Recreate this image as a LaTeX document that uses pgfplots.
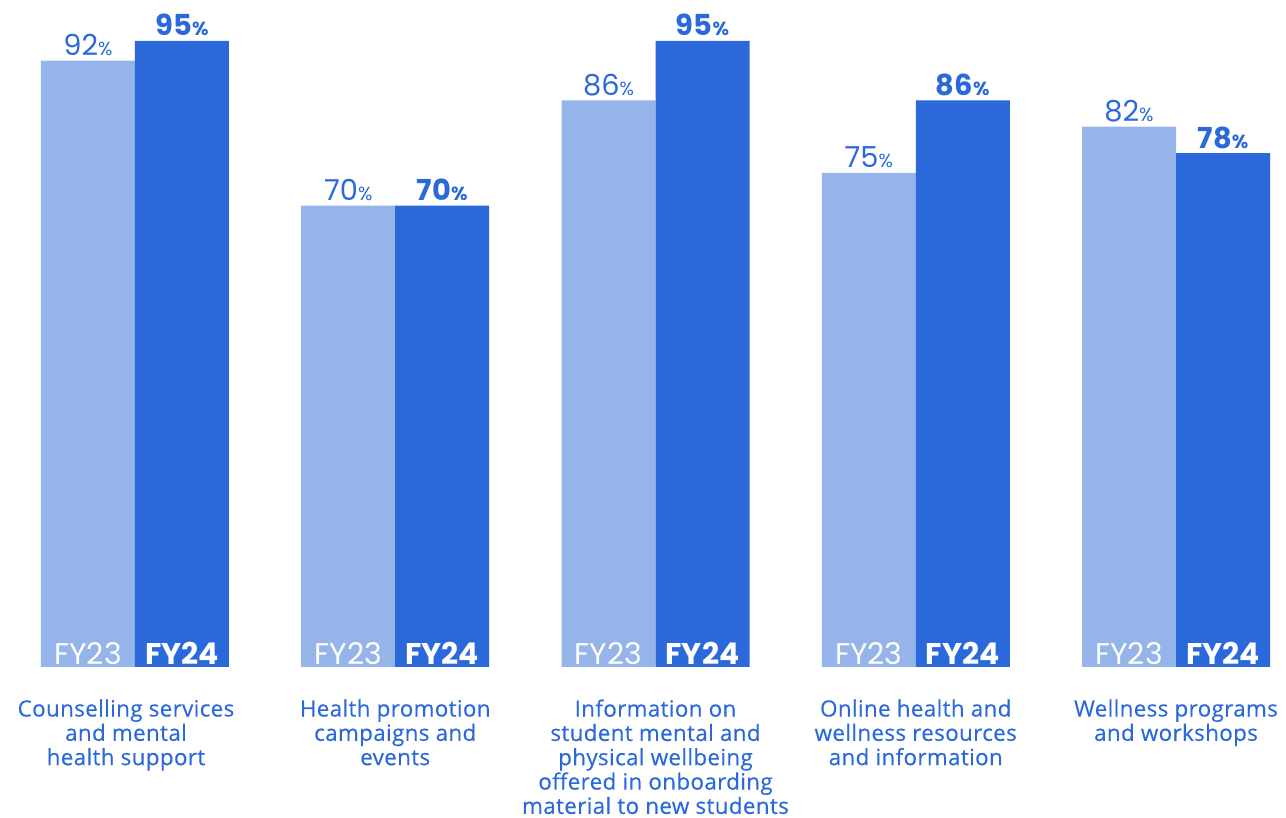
\documentclass[border=0pt]{standalone}
\usepackage{pgfplots}
\pgfplotsset{compat=1.18}
\usepackage{fontspec}
\setmainfont{Open Sans}
\newfontfamily\catfont[FakeBold=0.4, LetterSpace=1.5]{Open Sans}
\newfontfamily\numfont{Poppins}
\definecolor{lightb}{HTML}{95B4E9}
\definecolor{darkb}{HTML}{2B69DB}
\begin{document}
\begin{tikzpicture}
\begin{axis}[
 scale only axis, width=1286bp, height=818bp,
 xmin=-0.5187, xmax=4.4227, ymin=-22.915, ymax=101.22,
 hide axis, clip=false,
 ybar, bar width=94bp,
 point meta=explicit symbolic,
 nodes near coords style={anchor=base, yshift=5bp, text=darkb, inner sep=0pt},
]
\addplot[fill=lightb, draw=none, bar shift=-47bp,
  nodes near coords={\numfont\fontsize{29}{30}\selectfont\pgfplotspointmeta{\fontsize{19}{20}\selectfont\%}}]
  coordinates {(0,92)[92] (1,70)[70] (2,86)[86] (3,75)[75] (4,82)[82]};
\addplot[fill=darkb, draw=none, bar shift=47bp,
  nodes near coords={\numfont\fontsize{29}{30}\selectfont\bfseries\pgfplotspointmeta{\fontsize{19}{20}\selectfont\%}}]
  coordinates {(0,95)[95] (1,70)[70] (2,95)[95] (3,86)[86] (4,78)[78]};
\pgfplotsinvokeforeach{0,...,4}{
  \node[anchor=base, text=white, inner sep=0pt, font=\numfont\fontsize{30}{30}\selectfont, xshift=-47bp, yshift=2bp] at (axis cs:#1,0) {FY23};
  \node[anchor=base, text=white, inner sep=0pt, font=\numfont\fontsize{30}{30}\selectfont\bfseries, xshift=47bp, yshift=2bp] at (axis cs:#1,0) {FY24};
}
\tikzset{cat/.style={anchor=north, align=center, text=darkb, inner sep=0pt, font=\catfont\fontsize{22.5}{24.4}\selectfont}}
\node[cat, xshift=-9bp] at (axis cs:0,-4.9) {Counselling services\\and mental\\health support};
\node[cat] at (axis cs:1,-4.9) {Health promotion\\campaigns and\\events};
\node[cat] at (axis cs:2,-4.9) {Information on\\student mental and\\physical wellbeing\\offered in onboarding\\material to new students};
\node[cat] at (axis cs:3,-4.9) {Online health and\\wellness resources\\and information};
\node[cat] at (axis cs:4,-4.9) {Wellness programs\\and workshops};
\end{axis}
\pgfresetboundingbox
\useasboundingbox (current axis.south west) rectangle (current axis.north east);
\end{tikzpicture}
\end{document}
